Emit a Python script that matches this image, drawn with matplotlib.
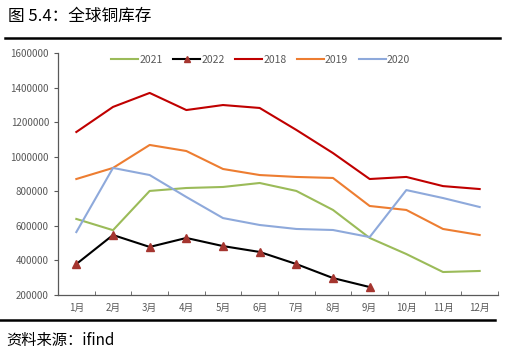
import matplotlib
matplotlib.use("Agg")
import matplotlib.pyplot as plt
from matplotlib.lines import Line2D

plt.rcParams['font.family'] = ['Noto Sans CJK SC', 'DejaVu Sans']

months = ['1月', '2月', '3月', '4月', '5月', '6月', '7月', '8月', '9月', '10月', '11月', '12月']
y2021 = [640000, 575000, 802000, 819000, 825000, 848000, 802000, 692000, 530000, 437000, 333000, 339000]
y2022 = [379000, 547000, 478000, 530000, 483000, 449000, 379000, 298000, 246000]
y2018 = [1143000, 1288000, 1369000, 1270000, 1299000, 1282000, 1155000, 1021000, 871000, 883000, 830000, 813000]
y2019 = [871000, 935000, 1068000, 1033000, 929000, 894000, 883000, 877000, 715000, 692000, 582000, 547000]
y2020 = [564000, 935000, 894000, 767000, 645000, 605000, 582000, 576000, 535000, 807000, 761000, 709000]
yticks = [200000, 400000, 600000, 800000, 1000000, 1200000, 1400000, 1600000]

W, H = 505, 356
fig = plt.figure(figsize=(W / 100, H / 100), dpi=100)
ax = fig.add_axes([58 / W, 1 - 295 / H, (498 - 58) / W, (295 - 53) / H])

x = list(range(12))
c2021 = '#9BBB59'
c2022 = '#000000'
c2018 = '#C00000'
c2019 = '#ED7D31'
c2020 = '#8EA9DB'
mk = '#A5352F'

ax.plot(x, y2021, color=c2021, lw=1.5, label='2021')
ax.plot(x[:len(y2022)], y2022, color=c2022, lw=1.5, marker='^', markersize=6,
        markerfacecolor=mk, markeredgecolor=mk, label='2022')
ax.plot(x, y2018, color=c2018, lw=1.5, label='2018')
ax.plot(x, y2019, color=c2019, lw=1.5, label='2019')
ax.plot(x, y2020, color=c2020, lw=1.5, label='2020')

ax.set_xlim(-0.5, 11.5)
ax.set_ylim(200000, 1600000)
ax.set_yticks(yticks)
ax.set_yticklabels([str(v) for v in yticks])
ax.set_xticks(x)
ax.set_xticklabels(months)
ax.set_xticks([i - 0.5 for i in range(13)], minor=True)
ax.tick_params(axis='x', which='major', length=0, labelsize=7, labelcolor='#595959', pad=6)
ax.tick_params(axis='x', which='minor', length=3, direction='in', color='#595959')
ax.tick_params(axis='y', length=3, direction='out', labelsize=7, labelcolor='#595959', color='#595959')
for s in ['top', 'right']:
    ax.spines[s].set_visible(False)
for s in ['left', 'bottom']:
    ax.spines[s].set_color('#595959')
    ax.spines[s].set_linewidth(0.9)

leg = ax.legend(loc='upper left', bbox_to_anchor=(0.1, 1.03), ncol=5, frameon=False,
                fontsize=7.5, handlelength=2.6, handletextpad=0.1, columnspacing=1.0,
                markerscale=0.8)
for t in leg.get_texts():
    t.set_color('#595959')

fig.text(8 / W, 1 - 16 / H, '图 5.4：全球铜库存', fontsize=12, va='center', ha='left')
fig.add_artist(Line2D([5 / W, 500 / W], [1 - 38 / H, 1 - 38 / H], color='black', lw=1.8))
fig.add_artist(Line2D([0 / W, 495 / W], [1 - 320 / H, 1 - 320 / H], color='black', lw=1.8))
fig.text(6 / W, 1 - 341 / H, '资料来源：ifind', fontsize=11, va='center', ha='left')

fig.savefig('out.png', dpi=100)
